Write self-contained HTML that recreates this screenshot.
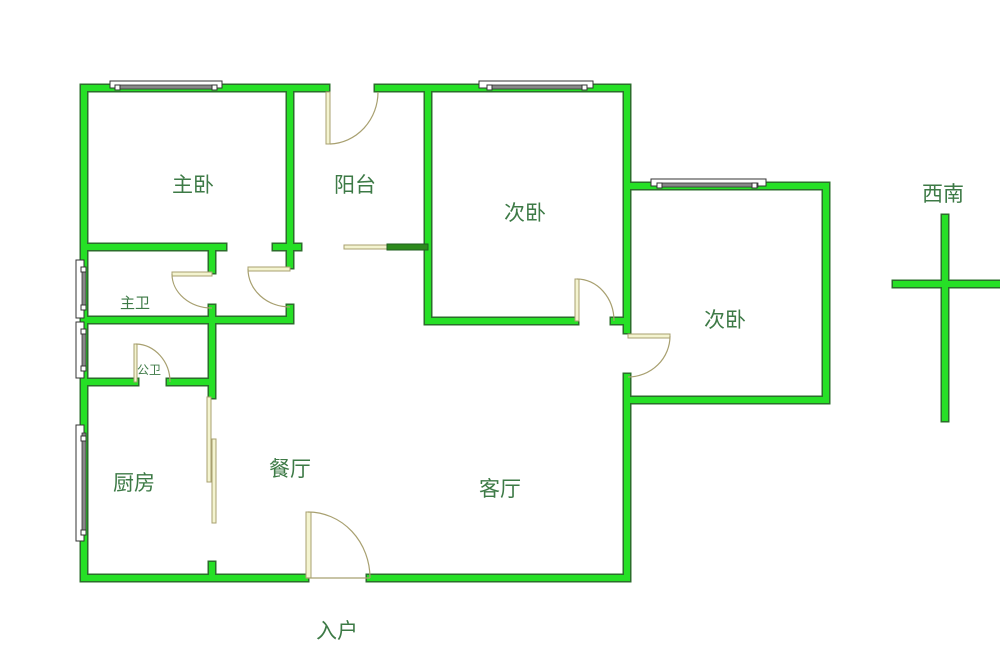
<!DOCTYPE html>
<html><head><meta charset="utf-8"><style>
html,body{margin:0;padding:0;background:#fff;}
svg{display:block}
text{font-family:"Liberation Sans","Noto Sans CJK SC",sans-serif;fill:#3d7a46;}
</style></head><body>
<svg width="1000" height="656" viewBox="0 0 1000 656" xmlns="http://www.w3.org/2000/svg">
<defs>
<g id="walls" fill="none" stroke-linecap="square" stroke-linejoin="miter">
<polyline points="326,88 84,88 84,578 305,578"/>
<polyline points="378,88 627,88 627,330"/>
<polyline points="370,578 627,578 627,377"/>
<polyline points="627,186 826,186 826,400 627,400"/>
<polyline points="290,88 290,265"/>
<polyline points="84,247 223,247"/>
<line x1="276" y1="247" x2="298" y2="247"/>
<polyline points="428,88 428,321 575,321"/>
<line x1="614" y1="321" x2="627" y2="321"/>
<line x1="212" y1="247" x2="212" y2="270"/>
<line x1="212" y1="308" x2="212" y2="395"/>
<polyline points="84,320 290,320 290,308"/>
<line x1="84" y1="382" x2="135" y2="382"/>
<line x1="170" y1="382" x2="212" y2="382"/>
<line x1="212" y1="565" x2="212" y2="578"/>
<line x1="896" y1="284" x2="1000" y2="284"/>
<line x1="945" y1="218" x2="945" y2="418"/>
</g>
</defs>
<use href="#walls" stroke="#2b6e2b" stroke-width="9"/>
<use href="#walls" stroke="#26e026" stroke-width="6"/>
<!-- balcony sliding door -->
<rect x="344" y="245" width="44" height="4" fill="#f4f4d0" stroke="#a8a070" stroke-width="1"/>
<rect x="387" y="244" width="41" height="6" fill="#2d8a1d" stroke="#1e5e1e" stroke-width="1"/>
<!-- windows -->
<g fill="#fff" stroke="#333" stroke-width="1">
<rect x="110" y="81" width="112" height="7"/>
<rect x="479" y="81" width="114" height="7"/>
<rect x="651" y="179" width="115" height="7"/>
<rect x="76" y="260" width="8" height="58"/>
<rect x="76" y="322" width="8" height="56"/>
<rect x="76" y="425" width="8" height="116"/>
</g>
<g fill="#888" stroke="#333" stroke-width="0.8">
<rect x="118" y="85" width="96" height="4"/>
<rect x="487" y="85" width="98" height="4"/>
<rect x="659" y="183" width="99" height="4"/>
<rect x="82" y="268" width="4" height="42"/>
<rect x="82" y="330" width="4" height="40"/>
<rect x="82" y="433" width="4" height="100"/>
</g>
<g fill="#fff" stroke="#333" stroke-width="1">
<rect x="115" y="85" width="5" height="5"/><rect x="212" y="85" width="5" height="5"/>
<rect x="487" y="85" width="5" height="5"/><rect x="582" y="85" width="5" height="5"/>
<rect x="657" y="183" width="5" height="5"/><rect x="752" y="183" width="5" height="5"/>
<rect x="81" y="267" width="5" height="5"/><rect x="81" y="305" width="5" height="5"/>
<rect x="81" y="329" width="5" height="5"/><rect x="81" y="366" width="5" height="5"/>
<rect x="81" y="436" width="5" height="5"/><rect x="81" y="530" width="5" height="5"/>
</g>
<!-- doors -->
<g fill="#f4f4d0" stroke="#a8a070" stroke-width="1">
<rect x="326" y="92" width="4" height="52"/>
<rect x="172" y="272" width="40" height="4"/>
<rect x="248" y="267" width="42" height="4"/>
<rect x="134" y="344" width="3" height="38"/>
<rect x="575" y="279" width="4" height="42"/>
<rect x="628" y="334" width="42" height="4"/>
<rect x="207" y="397" width="4" height="85"/>
<rect x="212" y="439" width="4" height="84"/>
<rect x="306" y="512" width="5" height="66"/>
</g>
<g fill="none" stroke="#a8a070" stroke-width="1.2">
<path d="M378,92 A50,52 0 0 1 330,144"/>
<path d="M172,274 A40,34 0 0 0 212,308"/>
<path d="M248,269 A42,38 0 0 0 290,307"/>
<path d="M136,344 A35,38 0 0 1 170,382"/>
<path d="M577,279 A37,42 0 0 1 614,321"/>
<path d="M670,336 A42,41 0 0 1 628,377"/>
<path d="M308,512 A62,66 0 0 1 370,578"/>
<line x1="306" y1="578" x2="370" y2="578"/>
</g>
<!-- labels -->
<g font-size="21" text-anchor="middle">
<text x="193" y="192">主卧</text>
<text x="355" y="192">阳台</text>
<text x="525" y="220">次卧</text>
<text x="725" y="327">次卧</text>
<text x="134" y="490">厨房</text>
<text x="290" y="476">餐厅</text>
<text x="500" y="496">客厅</text>
<text x="337" y="638">入户</text>
<text x="943" y="201">西南</text>
</g>
<text x="135" y="308" font-size="15" text-anchor="middle">主卫</text>
<text x="149" y="374" font-size="12" text-anchor="middle">公卫</text>
</svg>
</body></html>
